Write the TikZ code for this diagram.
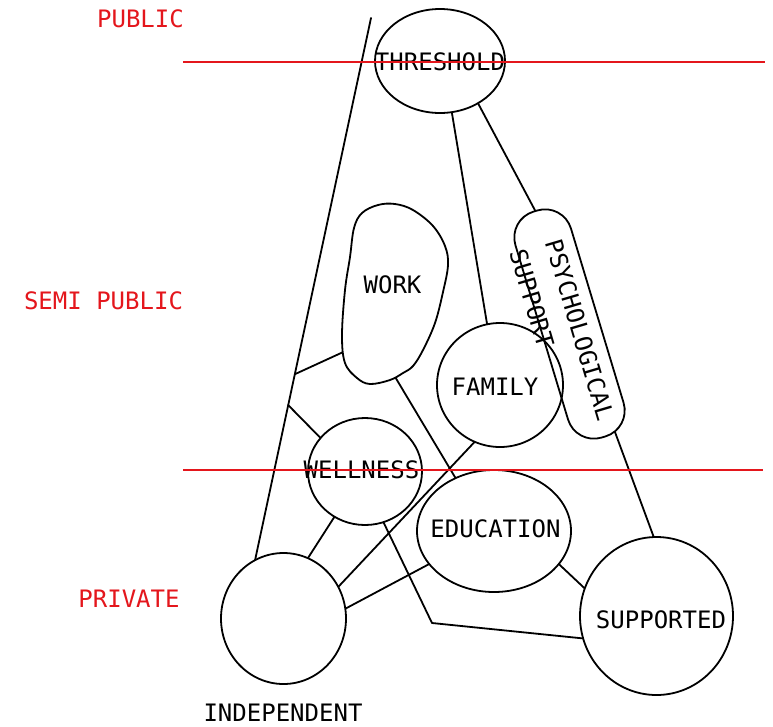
\documentclass[tikz,border=0pt]{standalone}
\usepackage{fontspec}
\setmonofont{DejaVu Sans Mono}
\usetikzlibrary{shapes.geometric,calc}
\pgfdeclarelayer{paper}
\pgfdeclarelayer{bg}
\pgfdeclarelayer{fg}
\pgfsetlayers{paper,bg,main,fg}
\definecolor{zonered}{RGB}{228,22,28}
\begin{document}
\begin{tikzpicture}[x=1pt,y=-1pt,
  ink/.style={line width=1.8pt, draw=black},
  shapebox/.style={ink, ellipse, inner sep=0pt, outer sep=0pt, fill=white},
  link/.style={ink, line cap=round, line join=round},
  lab/.style={font=\ttfamily\fontsize{24}{33}\selectfont, inner sep=0pt, anchor=base},
  zonelab/.style={lab, text=zonered},
  divider/.style={draw=zonered, line width=1.2pt}]
\useasboundingbox (0,0) rectangle (773,726);
\begin{pgfonlayer}{paper}
\fill[white] (0,0) rectangle (773,726);
\end{pgfonlayer}

% shapes
\node[shapebox, minimum width=130pt, minimum height=104pt] (thr) at (440,61) {};
\node[draw=none, ellipse, inner sep=0pt, outer sep=0pt, minimum width=106pt, minimum height=180pt] (work) at (395,295) {};
\draw[ink, fill=white] plot[smooth cycle, tension=0.6] coordinates {
  (350,257) (354,228) (362,213) (378,205) (395,204) (413,210) (433,226)
  (445,246) (448,265) (443,292) (435,323) (423,350) (413,366) (403,373)
  (390,380) (370,384) (357,378) (345,363) (342,335) (345,290)};
\node[shapebox, fill=none, minimum width=126pt, minimum height=124pt] (fam) at (500,385) {};
\node[ink, rectangle, rounded corners=27pt, inner sep=0pt, outer sep=0pt,
      minimum width=236pt, minimum height=58pt, rotate=106.8] (psy) at (569.5,324) {};
\node[shapebox, minimum width=114pt, minimum height=107pt] (wel) at (365,471.5) {};
\node[shapebox, minimum width=154pt, minimum height=122pt] (edu) at (494,531) {};
\node[shapebox, minimum width=125pt, minimum height=131pt] (ind) at (283.5,618.5) {};
\node[shapebox, minimum width=153pt, minimum height=158pt] (sup) at (656.5,616) {};

% free ends and bends
\coordinate (top) at (371,18);
\coordinate (m1) at ($(top)!0.657!(ind.116)$);
\coordinate (m2) at ($(top)!0.714!(ind.116)$);
\coordinate (b1) at (432,623);

% connectors
\begin{pgfonlayer}{bg}
\draw[link] (top) -- (ind.116);
\draw[link] (work.231) -- (m1);
\draw[link] (wel.143) -- (m2);
\draw[link] (thr.-77) -- (fam.102);
\draw[link] (thr.-48) -- (psy.east);
\draw[link, shorten <=-1.5pt] (psy.186) -- (sup.92);
\draw[link] (ind.68) -- (wel.236);
\draw[link] (ind.30) -- (fam.246);
\draw[link] (ind.9) -- (edu.207);
\draw[link] (wel.-70) -- (b1) -- (sup.197);
\draw[link, shorten <=-12pt] (work.-87) -- (edu.126);
\draw[link] (edu.-27) -- (sup.159);
\end{pgfonlayer}

% labels
\node[lab] (thrL) at (440,70) {THRESHOLD};
\node[lab] (workL) at (392.5,293) {WORK};
\node[lab] (famL) at (495,395) {FAMILY};
\node[lab] (welL) at (361.5,478) {WELLNESS};
\node[lab] (eduL) at (495.5,537) {EDUCATION};
\node[lab] (supL) at (661,628) {SUPPORTED};
\node[lab] (indL) at (283,721) {INDEPENDENT};
\node[lab, anchor=center, align=left, rotate=-73.5] (psyL) at (562,335) {PSYCHOLOGICAL\\[4pt]SUPPORT};

\node[zonelab] (pubL) at (140.5,27) {PUBLIC};
\node[zonelab] (semiL) at (103.5,309) {SEMI PUBLIC};
\node[zonelab] (privL) at (129,607) {PRIVATE};

% zone dividers
\begin{pgfonlayer}{fg}
\draw[divider] (183,62) -- (765,62);
\draw[divider] (183,470) -- (763,470);
\end{pgfonlayer}
\end{tikzpicture}
\end{document}
